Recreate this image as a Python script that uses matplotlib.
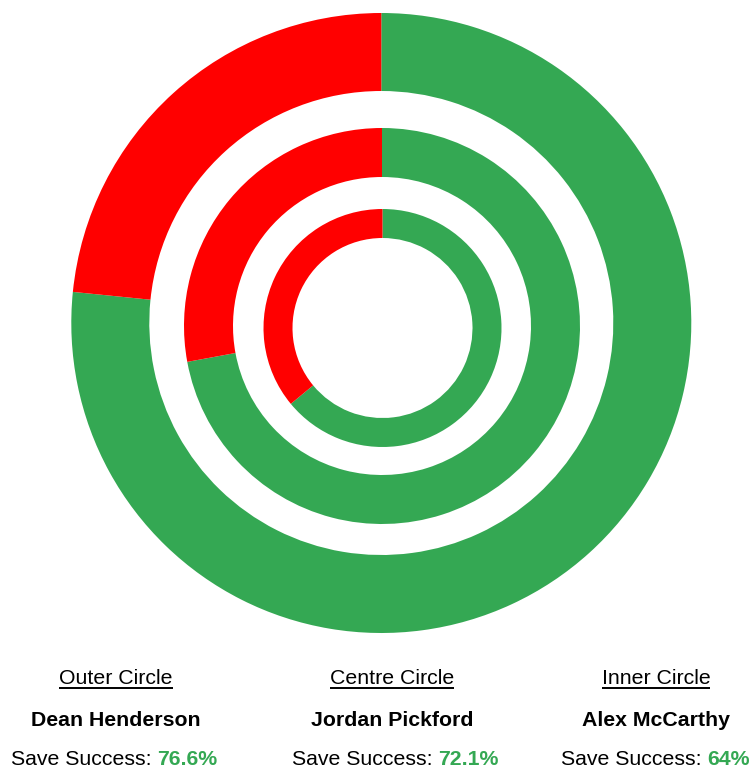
import matplotlib
matplotlib.use("Agg")
import matplotlib.pyplot as plt

# ---- data ----
rings = ["Outer Circle", "Centre Circle", "Inner Circle"]
keepers = ["Dean Henderson", "Jordan Pickford", "Alex McCarthy"]
save_success = [76.6, 72.1, 64.0]

GREEN = "#34A853"
RED = "#FF0000"

W, H = 751, 768
fig = plt.figure(figsize=(W / 100, H / 100), dpi=100)
ax = fig.add_axes([0, 0, 1, 1])

# ring geometry in pixels (outer radius, ring width, centre x, centre y from top)
geom = [(310, 78, 381.3, 323.0), (198, 49, 382.0, 326.0), (119, 29, 382.5, 328.0)]

for (r, w, cx, cy), s in zip(geom, save_success):
    ax.pie([s, 100 - s], colors=[GREEN, RED], startangle=90, counterclock=False,
           radius=r, center=(cx, H - cy),
           wedgeprops=dict(width=w, linewidth=0))

ax.set_xlim(0, W)
ax.set_ylim(0, H)
ax.set_aspect("auto")
ax.axis("off")

fam = ["Liberation Sans", "DejaVu Sans"]
fs = 15.3
renderer = fig.canvas.get_renderer()

head_x = [116, 392, 656]
save_x = [114.5, 395, 655]

for i in range(3):
    # heading with underline
    t = ax.text(head_x[i], H - 684, rings[i], ha="center", va="baseline",
                fontsize=fs, family=fam, color="black")
    bb = t.get_window_extent(renderer)
    ax.plot([bb.x0, bb.x1], [H - 688, H - 688], color="black", lw=1.4,
            solid_capstyle="butt")
    # keeper name
    ax.text(head_x[i], H - 726, keepers[i], ha="center", va="baseline",
            fontsize=fs, family=fam, fontweight="bold", color="black")
    # save success line (two parts)
    t1 = ax.text(0, H - 765, "Save Success: ", ha="left", va="baseline",
                 fontsize=fs, family=fam, color="black")
    t2 = ax.text(0, H - 765, f"{save_success[i]:g}%", ha="left", va="baseline",
                 fontsize=fs, family=fam, fontweight="bold", color=GREEN)
    w1 = t1.get_window_extent(renderer).width
    w2 = t2.get_window_extent(renderer).width
    x0 = save_x[i] - (w1 + w2) / 2
    t1.set_x(x0)
    t2.set_x(x0 + w1)

fig.savefig("out.png", dpi=100)
